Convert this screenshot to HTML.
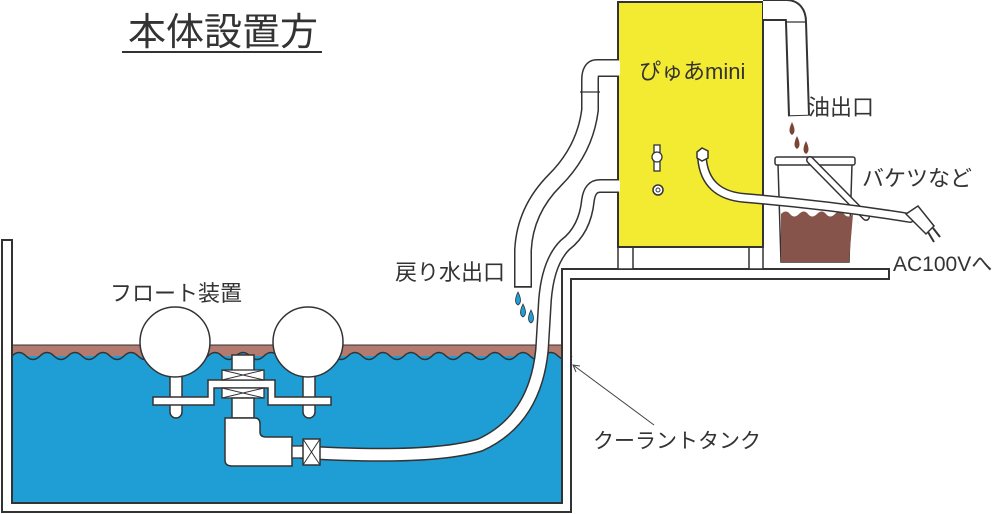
<!DOCTYPE html>
<html><head><meta charset="utf-8"><style>
html,body{margin:0;padding:0;background:#fff;}
svg{display:block}
text{font-family:"Liberation Sans","Noto Sans CJK JP",sans-serif;fill:#333;}
</style></head><body>
<svg width="1000" height="514" viewBox="0 0 1000 514" xmlns="http://www.w3.org/2000/svg">
<!-- liquid -->
<rect x="12" y="345" width="550" height="158" fill="#1f9ed6"/>
<path d="M12 345 H562 V356 H12 Z" fill="#b37a70"/>
<path d="M12 356 q7 -7 14 0 t14 0 t14 0 t14 0 t14 0 t14 0 t14 0 t14 0 t14 0 t14 0 t14 0 t14 0 t14 0 t14 0 t14 0 t14 0 t14 0 t14 0 t14 0 t14 0 t14 0 t14 0 t14 0 t14 0 t14 0 t14 0 t14 0 t14 0 t14 0 t14 0 t14 0 t14 0 t14 0 t14 0 t14 0 t14 0 t14 0 t14 0 t14 0 t14 0 V365 H12 Z" fill="#1f9ed6" stroke="none"/>
<path d="M12 356 q7 -7 14 0 t14 0 t14 0 t14 0 t14 0 t14 0 t14 0 t14 0 t14 0 t14 0 t14 0 t14 0 t14 0 t14 0 t14 0 t14 0 t14 0 t14 0 t14 0 t14 0 t14 0 t14 0 t14 0 t14 0 t14 0 t14 0 t14 0 t14 0 t14 0 t14 0 t14 0 t14 0 t14 0 t14 0 t14 0 t14 0 t14 0 t14 0 t14 0 t14 0" fill="none" stroke="#333" stroke-width="1.5"/>
<line x1="12" y1="345" x2="562" y2="345" stroke="#333" stroke-width="1"/>
<!-- tank outline -->
<path d="M2 240 H12 V503 H562 V269 H889 V279 H571 V512 H2 Z" fill="#fff" stroke="#333" stroke-width="2"/>

<!-- title -->
<text x="128" y="45" font-size="38">本体設置方</text>
<line x1="122" y1="52" x2="322" y2="52" stroke="#333" stroke-width="2"/>

<!-- machine legs -->
<rect x="618" y="240" width="15" height="29" fill="#fff" stroke="#333" stroke-width="1.5"/>
<rect x="749" y="240" width="14" height="29" fill="#fff" stroke="#333" stroke-width="1.5"/>
<!-- machine -->
<rect x="618" y="2" width="145" height="245" fill="#f3ea32" stroke="#333" stroke-width="2"/>
<text x="639" y="79" font-size="22">ぴゅあmini</text>
<!-- valve -->
<rect x="654" y="145" width="6" height="26" fill="#fff" stroke="#333" stroke-width="1.3"/>
<circle cx="657" cy="157" r="5" fill="#fff" stroke="#333" stroke-width="1.3"/>
<circle cx="658" cy="190" r="5" fill="#fff" stroke="#333" stroke-width="1.5"/>
<circle cx="658" cy="190" r="2" fill="#fff" stroke="#333" stroke-width="1"/>

<!-- oil outlet pipe -->
<path d="M763 10 H786 Q796 10 796 22 L799 116" fill="none" stroke="#333" stroke-width="22" stroke-linejoin="round"/>
<path d="M763 10 H786 Q796 10 796 22 L799 115" fill="none" stroke="#fff" stroke-width="18" stroke-linejoin="round"/>
<line x1="786" y1="22" x2="806" y2="22" stroke="#333" stroke-width="1.3"/>
<!-- oil drops -->
<g fill="#7a4535">
<path d="M792 122 q-5 10 0 13 q5 -3 0 -13z"/>
<path d="M797 136 q-5 10 0 13 q5 -3 0 -13z"/>
<path d="M806 141 q-5 10 0 13 q5 -3 0 -13z"/>
</g>
<text x="808" y="115" font-size="22">油出口</text>

<!-- bucket -->
<path d="M778 164 L781 262 H849 L852 164 Z" fill="#fff" stroke="#333" stroke-width="1.5"/>
<path d="M781 214 q5 -5 9 0 t9 0 t9 0 t9 0 t9 0 t9 0 t9 0 t9 0 L849 262 H781 Z" fill="#86544a"/>
<rect x="775" y="157" width="80" height="8" rx="2" fill="#fff" stroke="#333" stroke-width="1.5"/>
<path d="M810 160 L866 217" stroke="#333" stroke-width="8" stroke-linecap="round"/>
<path d="M810 160 L866 217" stroke="#fff" stroke-width="5" stroke-linecap="round"/>
<text x="862" y="186" font-size="22">バケツなど</text>

<!-- cable -->
<path d="M702 158 Q705 195 745 198 Q830 205 910 218" fill="none" stroke="#333" stroke-width="10" stroke-linecap="round"/>
<path d="M702 158 Q705 195 745 198 Q830 205 910 218" fill="none" stroke="#fff" stroke-width="7" stroke-linecap="round"/>
<path d="M697 152 l5 -4 l6 3 l0 7 l-6 3 l-5 -3z" fill="#fff" stroke="#333" stroke-width="1.5"/>
<path d="M906 214 l12 -8 l16 20 l-8 8z" fill="#fff" stroke="#333" stroke-width="1.5"/>
<line x1="928" y1="232" x2="934" y2="242" stroke="#333" stroke-width="2"/>
<line x1="933" y1="228" x2="940" y2="237" stroke="#333" stroke-width="2"/>
<text x="893" y="271" font-size="21">AC100Vへ</text>

<!-- return pipe -->
<path d="M618 68 H597 Q590 68 590 80 L590 110 Q585 150 555 180 Q525 210 523 250 L523 287" fill="none" stroke="#333" stroke-width="18"/>
<path d="M620 68 H597 Q590 68 590 80 L590 110 Q585 150 555 180 Q525 210 523 250 L523 286" fill="none" stroke="#fff" stroke-width="15"/>
<line x1="580" y1="92" x2="600" y2="92" stroke="#333" stroke-width="1.3"/>
<line x1="514" y1="287" x2="532" y2="287" stroke="#333" stroke-width="1.5"/>
<g fill="#1f9ed6" stroke="#333" stroke-width="0.8">
<path d="M518 292 q-5 10 0 13 q5 -3 0 -13z"/>
<path d="M523 304 q-5 10 0 13 q5 -3 0 -13z"/>
<path d="M531 310 q-5 10 0 13 q5 -3 0 -13z"/>
</g>
<text x="395" y="280" font-size="22">戻り水出口</text>

<!-- suction hose -->
<path d="M618 186 H600 Q590 186 588 200 Q585 230 565 245 Q548 262 545 300 L542 350 Q535 420 480 445 Q430 460 300 452" fill="none" stroke="#333" stroke-width="14"/>
<path d="M620 186 H600 Q590 186 588 200 Q585 230 565 245 Q548 262 545 300 L542 350 Q535 420 480 445 Q430 460 300 452" fill="none" stroke="#fff" stroke-width="11"/>

<!-- float device -->
<path d="M170 370 h12 v42 a6 6 0 0 1 -12 0z" fill="#fff" stroke="#333" stroke-width="1.5"/>
<path d="M303 370 h12 v42 a6 6 0 0 1 -12 0z" fill="#fff" stroke="#333" stroke-width="1.5"/>
<circle cx="175" cy="342" r="35" fill="#fff" stroke="#333" stroke-width="1.5"/>
<circle cx="308" cy="342" r="35" fill="#fff" stroke="#333" stroke-width="1.5"/>
<rect x="232" y="355" width="22" height="40" fill="#fff" stroke="#333" stroke-width="1.5"/>
<path d="M153 397 H208 V380 H275 V397 H331 V405 H268 V388 H214 V405 H153 Z" fill="#fff" stroke="#333" stroke-width="1.5"/>
<rect x="222" y="370" width="42" height="10" fill="#fff" stroke="#333" stroke-width="1.3"/>
<path d="M222 370 L264 380 M264 370 L222 380" stroke="#333" stroke-width="1"/>
<rect x="222" y="388" width="42" height="10" fill="#fff" stroke="#333" stroke-width="1.3"/>
<path d="M222 388 L264 398 M264 388 L222 398" stroke="#333" stroke-width="1"/>
<rect x="232" y="398" width="22" height="20" fill="#fff" stroke="#333" stroke-width="1.5"/>
<path d="M225 418 H255 Q260 418 260 424 V432 Q260 437 266 437 H292 V466 H232 Q225 466 225 460 Z" fill="#fff" stroke="#333" stroke-width="1.5"/>
<rect x="292" y="446" width="12" height="12" fill="#fff" stroke="#333" stroke-width="1.3"/>
<rect x="303" y="439" width="17" height="26" fill="#fff" stroke="#333" stroke-width="1.5"/>
<path d="M303 439 L320 465 M320 439 L303 465" stroke="#333" stroke-width="1"/>
<text x="110" y="301" font-size="22">フロート装置</text>

<!-- label arrow -->
<line x1="654" y1="425" x2="573" y2="365" stroke="#444" stroke-width="1"/>
<path d="M580 366 L573 365 L576 372" fill="none" stroke="#444" stroke-width="1"/>
<text x="593" y="448" font-size="21">クーラントタンク</text>
</svg>
</body></html>
